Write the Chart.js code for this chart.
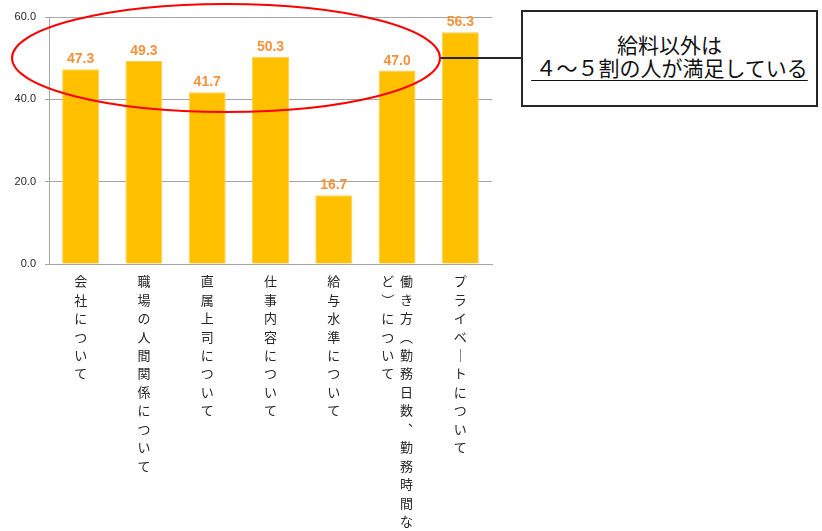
<!DOCTYPE html>
<html><head><meta charset="utf-8">
<script src="https://cdn.jsdelivr.net/npm/chart.js@4"></script>
<style>
html,body{margin:0;padding:0;background:#fff;}
#wrap{position:relative;width:822px;height:531px;}
#c{position:absolute;left:0;top:0;}
#note{position:absolute;left:521px;top:10px;width:297px;height:97px;box-sizing:border-box;border:2px solid #262626;background:#fff;font-family:"Noto Sans CJK JP";font-size:21px;line-height:23px;text-align:center;color:#111;padding-top:21px;}
#note u{text-decoration-thickness:1px;text-underline-offset:4px;}
</style></head>
<body><div id="wrap"><canvas id="c" width="822" height="531"></canvas><div id="note">給料以外は<br><u>&thinsp;４～５割の人が満足している</u></div></div>
<script>
const categories = ["会社について", "職場の人間関係について", "直属上司について", "仕事内容について", "給与水準について", "働き方（勤務日数、勤務時間など）について", "プライベートについて"];
const values = [47.3, 49.3, 41.7, 50.3, 16.7, 47.0, 56.3];
const yTicks = [0, 20, 40, 60];

const verticalForms = {'（':'︵','）':'︶','、':'︑','ー':'｜'};
function verticalLines(text, perCol) {
  const chars = Array.from(text).map(c => verticalForms[c] || c);
  const cols = [];
  for (let i = 0; i < chars.length; i += perCol) cols.push(chars.slice(i, i + perCol));
  const lines = [];
  for (let r = 0; r < cols[0].length; r++) {
    const parts = [];
    for (let k = cols.length - 1; k >= 0; k--) parts.push(cols[k][r] || '\u3000');
    lines.push(parts.join('  '));
  }
  return lines;
}
const tickLabels = categories.map(c => verticalLines(c, 14));

const valueLabels = {
  id: 'valueLabels',
  afterDatasetsDraw(chart) {
    const ctx = chart.ctx;
    const meta = chart.getDatasetMeta(0);
    ctx.save();
    ctx.font = 'bold 14px "Liberation Sans"';
    ctx.fillStyle = '#F7923C';
    ctx.textAlign = 'center';
    ctx.textBaseline = 'alphabetic';
    meta.data.forEach((bar, i) => {
      ctx.fillText(values[i].toFixed(1), bar.x, bar.y - 6);
    });
    ctx.restore();
  }
};
const callout = {
  id: 'callout',
  afterDraw(chart) {
    const ctx = chart.ctx;
    ctx.save();
    ctx.strokeStyle = '#262626';
    ctx.lineWidth = 2;
    ctx.beginPath();
    ctx.moveTo(440, 58);
    ctx.lineTo(522, 58);
    ctx.stroke();
    ctx.strokeStyle = '#FF0000';
    ctx.lineWidth = 2;
    ctx.beginPath();
    ctx.ellipse(226, 58, 214, 54, 0, 0, Math.PI * 2);
    ctx.stroke();
    ctx.restore();
  }
};

new Chart(document.getElementById('c'), {
  type: 'bar',
  data: {
    labels: tickLabels,
    datasets: [{
      data: values,
      backgroundColor: '#FFC000',
      borderColor: '#FFD24D',
      borderWidth: 1,
      barPercentage: 0.585,
      categoryPercentage: 1
    }]
  },
  options: {
    responsive: false,
    animation: false,
    devicePixelRatio: 1,
    layout: { padding: { top: 17, right: 330, left: 0, bottom: 0 } },
    plugins: { legend: { display: false }, tooltip: { enabled: false } },
    scales: {
      x: {
        grid: { display: false },
        border: { display: true, color: '#A6A6A6' },
        ticks: {
          autoSkip: false, minRotation: 0, maxRotation: 0, padding: 0,
          color: '#262626',
          font: { family: '"Noto Sans CJK JP"', size: 13, lineHeight: 1.42 }
        },
        afterFit(scale) { scale.height = 267; }
      },
      y: {
        min: 0, max: 60,
        afterBuildTicks(scale) { scale.ticks = yTicks.map(v => ({ value: v })); },
        grid: { color: '#A6A6A6', lineWidth: 1, tickLength: 4 },
        border: { display: true, color: '#A6A6A6' },
        ticks: {
          padding: 9, color: '#262626',
          font: { family: '"Liberation Sans"', size: 11 },
          callback: v => Number(v).toFixed(1)
        },
        afterFit(scale) { scale.width = 49; }
      }
    }
  },
  plugins: [valueLabels, callout]
});
</script>
</body></html>
